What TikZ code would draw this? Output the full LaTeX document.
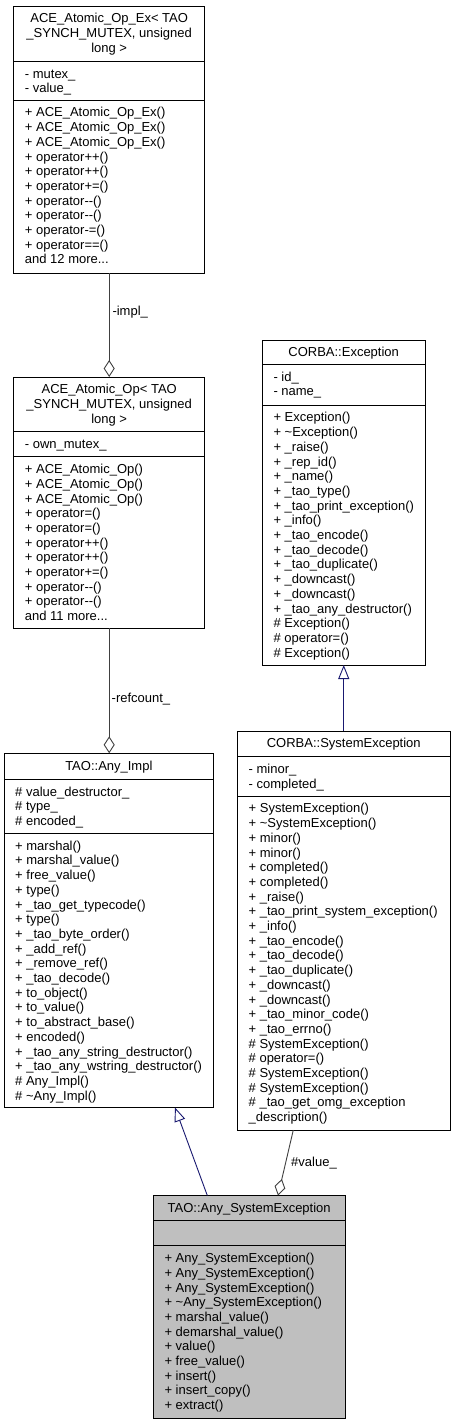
\documentclass[tikz,border=0pt]{standalone}
\usepackage{fontspec}
\setmainfont{Liberation Sans}
\usetikzlibrary{arrows.meta}
\definecolor{umlgray}{HTML}{BFBFBF}
\definecolor{inhblue}{HTML}{191970}
\definecolor{aggrgray}{HTML}{404040}
\newcommand\umlfont{\fontsize{13pt}{14.7pt}\selectfont}
\newcommand\fl{\rule{0pt}{11pt}}
\newcommand\mm{-\kern0pt-}
\newcommand\tl{\textasciitilde}
\tikzset{
 classbox/.style={draw=black, line width=1pt, fill=white, inner sep=0pt, outer sep=0pt, anchor=north west},
 sepline/.style={draw=black, line width=1pt},
 titletext/.style={font=\umlfont, align=center, inner sep=0pt, anchor=north},
 listtext/.style={font=\umlfont, align=left, inner sep=0pt, anchor=north west},
 lbl/.style={font=\umlfont, inner sep=0pt, anchor=base west},
 aggr/.style={draw=aggrgray, line width=0.9pt, -{Diamond[open, length=17pt, width=11pt]}},
 inh/.style={draw=inhblue, line width=0.9pt, -{Triangle[open, length=14pt, width=11pt]}},
}
\begin{document}
\begin{tikzpicture}[x=1pt,y=-1pt]
\fill[white] (0,0) rectangle (455,1424);
\useasboundingbox (0,0) rectangle (455,1424);

% ACE_Atomic_Op_Ex
\node[classbox, minimum width=191pt, minimum height=267pt] (exop) at (13.7,6) {};
\draw[sepline] (exop.west |- 0,61.3) -- (exop.east |- 0,61.3);
\draw[sepline] (exop.west |- 0,100) -- (exop.east |- 0,100);
\node[titletext] (exop-t) at ([yshift=-5.7pt]exop.north) {\fl ACE\_Atomic\_Op\_Ex< TAO\\\_SYNCH\_MUTEX, unsigned\\long >};
\node[listtext] (exop-a) at (24.7,67.0) {\fl - mutex\_\\- value\_};
\node[listtext] (exop-m) at (24.7,105.7) {\fl + ACE\_Atomic\_Op\_Ex()\\+ ACE\_Atomic\_Op\_Ex()\\+ ACE\_Atomic\_Op\_Ex()\\+ operator++()\\+ operator++()\\+ operator+=()\\+ operator\mm()\\+ operator\mm()\\+ operator-=()\\+ operator==()\\and 12 more...};

% ACE_Atomic_Op
\node[classbox, minimum width=191pt, minimum height=251.3pt] (op) at (13.7,377) {};
\draw[sepline] (op.west |- 0,431.3) -- (op.east |- 0,431.3);
\draw[sepline] (op.west |- 0,456.7) -- (op.east |- 0,456.7);
\node[titletext] (op-t) at ([yshift=-5.7pt]op.north) {\fl ACE\_Atomic\_Op< TAO\\\_SYNCH\_MUTEX, unsigned\\long >};
\node[listtext] (op-a) at (24.7,437.0) {\fl - own\_mutex\_};
\node[listtext] (op-m) at (24.7,462.4) {\fl + ACE\_Atomic\_Op()\\+ ACE\_Atomic\_Op()\\+ ACE\_Atomic\_Op()\\+ operator=()\\+ operator=()\\+ operator++()\\+ operator++()\\+ operator+=()\\+ operator\mm()\\+ operator\mm()\\and 11 more...};

% TAO::Any_Impl
\node[classbox, minimum width=209.7pt, minimum height=354.2pt] (impl) at (4,753.3) {};
\draw[sepline] (impl.west |- 0,779.3) -- (impl.east |- 0,779.3);
\draw[sepline] (impl.west |- 0,833.3) -- (impl.east |- 0,833.3);
\node[titletext] (impl-t) at ([yshift=-5.7pt]impl.north) {\fl TAO::Any\_Impl};
\node[listtext] (impl-a) at (15,785.0) {\fl \# value\_destructor\_\\\# type\_\\\# encoded\_};
\node[listtext] (impl-m) at (15,839.0) {\fl + marshal()\\+ marshal\_value()\\+ free\_value()\\+ type()\\+ \_tao\_get\_typecode()\\+ type()\\+ \_tao\_byte\_order()\\+ \_add\_ref()\\+ \_remove\_ref()\\+ \_tao\_decode()\\+ to\_object()\\+ to\_value()\\+ to\_abstract\_base()\\+ encoded()\\+ \_tao\_any\_string\_destructor()\\+ \_tao\_any\_wstring\_destructor()\\\# Any\_Impl()\\\# \tl Any\_Impl()};

% CORBA::Exception
\node[classbox, minimum width=162.7pt, minimum height=325pt] (exc) at (262.3,340) {};
\draw[sepline] (exc.west |- 0,364.3) -- (exc.east |- 0,364.3);
\draw[sepline] (exc.west |- 0,405) -- (exc.east |- 0,405);
\node[titletext] (exc-t) at ([yshift=-5.7pt]exc.north) {\fl CORBA::Exception};
\node[listtext] (exc-a) at (273.3,370.0) {\fl - id\_\\- name\_};
\node[listtext] (exc-m) at (273.3,410.7) {\fl + Exception()\\+ \tl Exception()\\+ \_raise()\\+ \_rep\_id()\\+ \_name()\\+ \_tao\_type()\\+ \_tao\_print\_exception()\\+ \_info()\\+ \_tao\_encode()\\+ \_tao\_decode()\\+ \_tao\_duplicate()\\+ \_downcast()\\+ \_downcast()\\+ \_tao\_any\_destructor()\\\# Exception()\\\# operator=()\\\# Exception()};

% CORBA::SystemException
\node[classbox, minimum width=212.5pt, minimum height=399pt] (sysexc) at (237.5,731) {};
\draw[sepline] (sysexc.west |- 0,756.7) -- (sysexc.east |- 0,756.7);
\draw[sepline] (sysexc.west |- 0,796) -- (sysexc.east |- 0,796);
\node[titletext] (sysexc-t) at ([yshift=-5.7pt]sysexc.north) {\fl CORBA::SystemException};
\node[listtext] (sysexc-a) at (248.5,762.4) {\fl - minor\_\\- completed\_};
\node[listtext] (sysexc-m) at (248.5,801.7) {\fl + SystemException()\\+ \tl SystemException()\\+ minor()\\+ minor()\\+ completed()\\+ completed()\\+ \_raise()\\+ \_tao\_print\_system\_exception()\\+ \_info()\\+ \_tao\_encode()\\+ \_tao\_decode()\\+ \_tao\_duplicate()\\+ \_downcast()\\+ \_downcast()\\+ \_tao\_minor\_code()\\+ \_tao\_errno()\\\# SystemException()\\\# operator=()\\\# SystemException()\\\# SystemException()\\\# \_tao\_get\_omg\_exception\\\_description()};

% TAO::Any_SystemException
\node[classbox, fill=umlgray, minimum width=191.7pt, minimum height=222.8pt] (anysys) at (153.3,1195.5) {};
\draw[sepline] (anysys.west |- 0,1220.5) -- (anysys.east |- 0,1220.5);
\draw[sepline] (anysys.west |- 0,1245.7) -- (anysys.east |- 0,1245.7);
\node[titletext] (anysys-t) at ([yshift=-5.7pt]anysys.north) {\fl TAO::Any\_SystemException};
\node[listtext] (anysys-m) at (164.3,1251.4) {\fl + Any\_SystemException()\\+ Any\_SystemException()\\+ Any\_SystemException()\\+ \tl Any\_SystemException()\\+ marshal\_value()\\+ demarshal\_value()\\+ value()\\+ free\_value()\\+ insert()\\+ insert\_copy()\\+ extract()};

% connectors
\draw[aggr] (exop.south) -- (exop.south |- op.north);
\node[lbl] (l-impl) at (112.3,315) {-impl\_};
\draw[aggr] (op.south) -- (op.south |- impl.north);
\node[lbl] (l-ref) at (111.5,702.5) {-refcount\_};
\draw[inh] (sysexc.north) -- (sysexc.north |- exc.south);
\draw[inh] ([xshift=-41.85pt]anysys.north) -- ([xshift=66.15pt]impl.south);
\draw[aggr] ([xshift=-50.45pt]sysexc.south) -- ([xshift=28.85pt]anysys.north);
\node[lbl] (l-val) at (291,1166.3) {\#value\_};
\end{tikzpicture}
\end{document}
